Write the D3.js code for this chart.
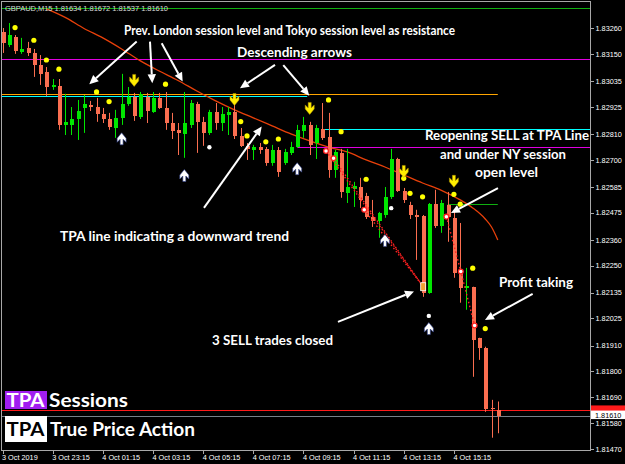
<!DOCTYPE html>
<html>
<head>
<meta charset="utf-8">
<script src="https://cdn.jsdelivr.net/npm/d3@7"></script>
<style>
  html, body { margin: 0; padding: 0; background: #000; }
  svg { display: block; }
  .axis text { fill: #fff; font-family: "Liberation Sans", Arial, sans-serif; font-size: 7.3px; }
  .axis line, .axis path { stroke: #a8a8a8; shape-rendering: crispEdges; }
  .note { fill: #fff; font-family: Lato, "Open Sans", sans-serif; font-weight: 700; font-size: 13.5px; }
  .logo { font-family: Lato, sans-serif; font-weight: 700; font-size: 19px; }
</style>
</head>
<body>
<svg id="chart" width="625" height="464"></svg>
<script>
// GBPAUD M15, 3 Oct 21:15 .. 4 Oct 17:00
const open = [1.83243,1.83188,1.83222,1.83158,1.83175,1.83154,1.83103,1.83073,1.83009,1.83014,
  1.82848,1.82848,1.82873,1.82920,1.82933,1.82924,1.82895,1.82873,1.82835,1.82878,
  1.82937,1.82967,1.82882,1.82967,1.82903,1.82963,1.82920,1.82856,1.82827,1.82810,
  1.82848,1.82937,1.82861,1.82814,1.82903,1.82856,1.82890,1.82903,1.82801,1.82759,
  1.82742,1.82754,1.82746,1.82686,1.82742,1.82686,1.82729,1.82754,1.82822,1.82848,
  1.82771,1.82831,1.82797,1.82657,1.82729,1.82559,1.82576,1.82584,1.82546,1.82457,
  1.82440,1.82465,1.82542,1.82703,1.82567,1.82508,1.82465,1.82461,1.82134,1.82512,
  1.82419,1.82508,1.82453,1.82219,1.82155,1.82160,1.81943,1.81900,1.81645,1.81634];
const high = [1.83260,1.83281,1.83230,1.83218,1.83201,1.83171,1.83145,1.83094,1.83043,1.83043,
  1.82980,1.82924,1.82954,1.82975,1.82950,1.82963,1.82920,1.82899,1.82912,1.83065,
  1.83009,1.82984,1.82988,1.82984,1.82988,1.82984,1.82988,1.82899,1.82856,1.82988,
  1.82954,1.82946,1.82882,1.82912,1.82941,1.82924,1.82924,1.82941,1.82835,1.82771,
  1.82763,1.82771,1.82754,1.82763,1.82754,1.82746,1.82776,1.82848,1.82882,1.82861,
  1.82848,1.82941,1.82899,1.82742,1.82746,1.82746,1.82606,1.82623,1.82559,1.82529,
  1.82478,1.82584,1.82746,1.82708,1.82580,1.82521,1.82487,1.82465,1.82516,1.82572,
  1.82529,1.82563,1.82478,1.82431,1.82240,1.82160,1.81943,1.81905,1.81679,1.81672];
const low = [1.83154,1.83179,1.83150,1.83150,1.83141,1.83052,1.83018,1.82971,1.82997,1.82827,
  1.82805,1.82805,1.82784,1.82814,1.82907,1.82861,1.82856,1.82827,1.82793,1.82848,
  1.82929,1.82865,1.82873,1.82856,1.82899,1.82916,1.82827,1.82788,1.82720,1.82708,
  1.82835,1.82729,1.82759,1.82805,1.82827,1.82822,1.82805,1.82788,1.82754,1.82699,
  1.82699,1.82725,1.82674,1.82674,1.82627,1.82678,1.82720,1.82750,1.82793,1.82720,
  1.82703,1.82784,1.82623,1.82623,1.82538,1.82516,1.82499,1.82495,1.82448,1.82414,
  1.82368,1.82453,1.82533,1.82563,1.82516,1.82448,1.82274,1.82117,1.82130,1.82410,
  1.82389,1.82351,1.82198,1.82092,1.82062,1.81777,1.81849,1.81628,1.81518,1.81537];
const close = [1.83196,1.83230,1.83162,1.83171,1.83154,1.83103,1.83065,1.83009,1.83018,1.82848,
  1.82861,1.82873,1.82907,1.82937,1.82924,1.82895,1.82873,1.82839,1.82878,1.82937,
  1.82967,1.82886,1.82980,1.82907,1.82963,1.82920,1.82856,1.82822,1.82814,1.82856,
  1.82941,1.82861,1.82814,1.82903,1.82856,1.82895,1.82903,1.82801,1.82759,1.82746,
  1.82754,1.82742,1.82686,1.82742,1.82648,1.82733,1.82754,1.82827,1.82848,1.82763,
  1.82835,1.82793,1.82657,1.82733,1.82563,1.82584,1.82589,1.82529,1.82457,1.82440,
  1.82474,1.82542,1.82703,1.82567,1.82529,1.82465,1.82457,1.82134,1.82512,1.82419,
  1.82516,1.82457,1.82219,1.82155,1.82164,1.81934,1.81900,1.81641,1.81641,1.81610];

// moving average ("TPA line"), read at sample bars
const maIndex = [7,10,13,16,19,22,25,28,31,34,37,40,43,46,49,52,55,58,61,64,67,70,73,75,77,78,79];
const maValue = [1.83341,1.83305,1.83258,1.83218,1.83171,1.83120,1.83077,1.83037,1.82992,1.82950,
  1.82912,1.82878,1.82844,1.82810,1.82780,1.82754,1.82733,1.82699,1.82669,1.82635,
  1.82601,1.82570,1.82529,1.82495,1.82448,1.82414,1.82359];

// session levels
const levelPrice = [1.83345, 1.83127, 1.82978, 1.82972, 1.82830, 1.82753, 1.82512];
const levelFrom  = [-1, -1, -1, -1, 51, 47, 71];
const levelTo    = [null, null, 79, 48.6, null, null, 79];
const levelKind  = ["green", "magenta", "orange", "cyan", "cyan", "magenta", "green"];

// fractal dots
const dotIndex = [2,5,7,9,15,17,26,38,39,42,44,52,54,58,64,65,67,72,73,75,77];
const dotPrice = [1.83262,1.83208,1.83124,1.83085,1.82988,1.82947,1.83021,1.82862,1.82801,1.82776,
  1.82788,1.82954,1.82819,1.82617,1.82621,1.82557,1.82542,1.82553,1.82511,1.82239,1.81982];
const whiteDotIndex = [33, 62, 68];
const whiteDotPrice = [1.82753, 1.82494, 1.82036];

// signal arrows
const sellArrowIndex = [21, 37, 49, 64, 72];
const sellArrowPrice = [1.83035, 1.82954, 1.82916, 1.82648, 1.82606];
const buyArrowIndex = [19, 29, 47, 61, 68];
const buyArrowPrice = [1.82791, 1.82635, 1.82664, 1.82359, 1.81984];

// trades
const entryIndex = [51.6, 52.8, 57.7, 70.8, 73.1, 75.3];
const entryPrice = [1.82737, 1.82706, 1.82487, 1.82458, 1.82225, 1.81995];
const closeIndex = 67.1, closePrice = 1.82160;

const ask = 1.81634, bid = 1.81610;

const priceTicks = [1.83260,1.83150,1.83035,1.82925,1.82810,1.82700,1.82585,1.82475,1.82360,
  1.82250,1.82135,1.82025,1.81910,1.81800,1.81690,1.81580,1.81470];
const timeTickIndex = [0, 8, 16, 24, 32, 40, 48, 56, 64, 72];
const timeTickLabel = ["3 Oct 2019","3 Oct 23:15","4 Oct 01:15","4 Oct 03:15","4 Oct 05:15",
  "4 Oct 07:15","4 Oct 09:15","4 Oct 11:15","4 Oct 13:15","4 Oct 15:15"];

const levelColor = {green: "#10b010", magenta: "#e000e0", orange: "#ffa500", cyan: "#00ffff"};
const bullColor = "#00e600", bearColor = "#fa6e50";

const plot = {left: 1, top: 1, right: 590, bottom: 450};

const svg = d3.select("#chart");
svg.append("rect").attr("width", 625).attr("height", 464).attr("fill", "#000");

const x = d3.scaleLinear().domain([0, 79]).range([2.5, 497.8]);
const y = d3.scaleLinear().domain([1.81470, 1.83260]).range([449, 28]);

svg.append("clipPath").attr("id", "clip")
  .append("rect").attr("x", plot.left).attr("y", plot.top)
  .attr("width", plot.right - plot.left).attr("height", plot.bottom - plot.top);

const g = svg.append("g").attr("clip-path", "url(#clip)");

// levels
levelPrice.forEach((p, k) => {
  const x1 = x(levelFrom[k]);
  const x2 = levelTo[k] == null ? plot.right : x(levelTo[k]);
  const yy = Math.round(y(p)) + 0.5;
  g.append("line").attr("x1", x1).attr("x2", x2).attr("y1", yy).attr("y2", yy)
    .attr("stroke", levelColor[levelKind[k]]).attr("stroke-width", 1);
});

// ask / bid
g.append("line").attr("x1", plot.left).attr("x2", plot.right)
  .attr("y1", Math.round(y(ask)) + 0.5).attr("y2", Math.round(y(ask)) + 0.5)
  .attr("stroke", "#ff1a1a");
g.append("line").attr("x1", plot.left).attr("x2", plot.right)
  .attr("y1", Math.round(y(bid)) + 0.5).attr("y2", Math.round(y(bid)) + 0.5)
  .attr("stroke", "#778088");

// moving average
g.append("path")
  .datum(maIndex.map((d, k) => [d, maValue[k]]))
  .attr("fill", "none").attr("stroke", "#e8400a").attr("stroke-width", 1.3)
  .attr("d", d3.line().x(d => x(d[0])).y(d => y(d[1])).curve(d3.curveMonotoneX));

// candles
const bars = open.map((o, i) => ({i, o, h: high[i], l: low[i], c: close[i]}));
const cx = d => Math.round(x(d.i));
g.selectAll("line.wick").data(bars).join("line").attr("class", "wick")
  .attr("x1", d => cx(d) + 0.5).attr("x2", d => cx(d) + 0.5)
  .attr("y1", d => y(d.h)).attr("y2", d => y(d.l))
  .attr("stroke", d => d.c >= d.o ? bullColor : bearColor);
g.selectAll("rect.body").data(bars).join("rect").attr("class", "body")
  .attr("x", d => cx(d) - 1).attr("width", 4)
  .attr("y", d => Math.round(y(Math.max(d.o, d.c))))
  .attr("height", d => Math.max(1, Math.round(Math.abs(y(d.o) - y(d.c)))))
  .attr("fill", d => d.c >= d.o ? bullColor : bearColor);

// trade lines
const tradeLine = d3.line().x(d => x(d[0])).y(d => y(d[1]));
[0, 1, 2].forEach(k => {
  g.append("path").datum([[entryIndex[k], entryPrice[k]], [closeIndex, closePrice]])
    .attr("d", tradeLine).attr("stroke", "#ff2020").attr("stroke-width", 1.4)
    .attr("stroke-dasharray", "1.5,2.5").attr("fill", "none");
});
g.append("path").datum([3, 4, 5].map(k => [entryIndex[k], entryPrice[k]]))
  .attr("d", tradeLine).attr("stroke", "#ff2020").attr("stroke-width", 1.4)
  .attr("stroke-dasharray", "1.5,2.5").attr("fill", "none");

g.selectAll("circle.entry").data(entryIndex).join("circle").attr("class", "entry")
  .attr("cx", d => x(d)).attr("cy", (d, k) => y(entryPrice[k])).attr("r", 2.4)
  .attr("fill", "#fff").attr("stroke", "#ff2020").attr("stroke-width", 1.3);
g.append("rect").attr("x", x(closeIndex) - 2.5).attr("y", y(closePrice) - 4)
  .attr("width", 5).attr("height", 8).attr("fill", "#f0a030")
  .attr("stroke", "#fff").attr("stroke-width", 0.8);

// fractal dots
g.selectAll("circle.dot").data(dotIndex).join("circle").attr("class", "dot")
  .attr("cx", d => x(d)).attr("cy", (d, k) => y(dotPrice[k])).attr("r", 2.6)
  .attr("fill", "#ffff00");
g.selectAll("circle.wdot").data(whiteDotIndex).join("circle").attr("class", "wdot")
  .attr("cx", d => x(d)).attr("cy", (d, k) => y(whiteDotPrice[k])).attr("r", 2.2)
  .attr("fill", "#fff");

// arrows
const arrowPath = "M-1.5,-6.5H1.5V-1L4.5,-4V0L0,5.5L-4.5,0V-4L-1.5,-1Z";
g.selectAll("path.sell").data(sellArrowIndex).join("path").attr("class", "sell")
  .attr("transform", (d, k) => `translate(${x(d)},${y(sellArrowPrice[k])})`)
  .attr("d", arrowPath).attr("fill", "#ffee00").attr("stroke", "#b09000").attr("stroke-width", 0.5);
g.selectAll("path.buy").data(buyArrowIndex).join("path").attr("class", "buy")
  .attr("transform", (d, k) => `translate(${x(d)},${y(buyArrowPrice[k])}) scale(1,-1)`)
  .attr("d", arrowPath).attr("fill", "#fff").attr("stroke", "#2a3a8a").attr("stroke-width", 0.6);

// border + axes
svg.append("rect").attr("x", plot.left + 0.5).attr("y", plot.top + 0.5)
  .attr("width", plot.right - plot.left).attr("height", plot.bottom - plot.top)
  .attr("fill", "none").attr("stroke", "#a8a8a8").attr("shape-rendering", "crispEdges");

const yAxis = svg.append("g").attr("class", "axis")
  .attr("transform", `translate(${plot.right + 0.5},0)`)
  .call(d3.axisRight(y).tickValues(priceTicks).tickFormat(d3.format(".5f")).tickSize(3).tickPadding(2));
yAxis.select(".domain").remove();

const xAxis = svg.append("g").attr("class", "axis")
  .attr("transform", `translate(0,${plot.bottom + 0.5})`)
  .call(d3.axisBottom(x).tickValues(timeTickIndex).tickFormat((d, k) => timeTickLabel[k]).tickSize(3).tickPadding(2));
xAxis.select(".domain").remove();
xAxis.selectAll("text").attr("text-anchor", "start").attr("dx", -1).attr("dy", "0.55em");

// price markers on the axis: ask box mostly hidden under the bid box
svg.append("rect").attr("x", plot.right + 1).attr("y", y(ask) - 5).attr("width", 34).attr("height", 9).attr("fill", "#ff1a1a");
svg.append("rect").attr("x", plot.right + 1).attr("y", y(bid) - 5.5).attr("width", 34).attr("height", 8.5).attr("fill", "#fff");
svg.append("text").attr("x", plot.right + 5).attr("y", y(bid) + 1.8).text(d3.format(".5f")(bid))
  .attr("fill", "#000").style("font-family", "Liberation Sans, Arial, sans-serif").style("font-size", "7.3px");

// title
svg.append("text").attr("x", 5).attr("y", 11)
  .text("GBPAUD,M15  1.81634 1.81672 1.81537 1.81610")
  .attr("fill", "#d8d8d8").attr("textLength", 163)
  .style("font-family", "Liberation Sans, Arial, sans-serif").style("font-size", "7.5px");

// callouts
const notes = [
  {t: "Prev. London session level and Tokyo session level as resistance", x: 289.5, y: 35, w: 331},
  {t: "Descending arrows", x: 294.5, y: 57, w: 115},
  {t: "Reopening SELL at TPA Line", x: 507, y: 140, w: 164},
  {t: "and under NY session", x: 503, y: 159, w: 126},
  {t: "open level", x: 506.5, y: 177, w: 63},
  {t: "TPA line indicating a downward trend", x: 174.5, y: 241, w: 229},
  {t: "Profit taking", x: 536, y: 287, w: 74},
  {t: "3 SELL trades closed", x: 272.5, y: 345, w: 121}
];
svg.selectAll("text.note").data(notes).join("text").attr("class", "note")
  .attr("x", d => d.x).attr("y", d => d.y).attr("text-anchor", "middle")
  .attr("textLength", d => d.w).attr("lengthAdjust", "spacingAndGlyphs").text(d => d.t);

// callout arrows: tip in data space, tail as pixel offset from tip
const pointers = [
  {i: 13.84, p: 1.83021, dx: 47.4, dy: -42.6},
  {i: 23.89, p: 1.83025, dx: -2.3, dy: -41.6},
  {i: 28.74, p: 1.83032, dx: -21, dy: -38.4},
  {i: 37.88, p: 1.83004, dx: 35, dy: -23.3},
  {i: 48.93, p: 1.82972, dx: -26, dy: -30.7},
  {i: 41.34, p: 1.82841, dx: -57.7, dy: 81.3},
  {i: 71.53, p: 1.82473, dx: 47, dy: -25},
  {i: 76.95, p: 1.82019, dx: 47.7, dy: -26},
  {i: 65.63, p: 1.82140, dx: -76, dy: 30.5}
];
pointers.forEach(a => {
  const tx = x(a.i), ty = y(a.p);
  const len = Math.hypot(a.dx, a.dy), ux = -a.dx / len, uy = -a.dy / len;
  const hl = 9, hw = 4.2;
  const bx = tx - ux * hl, by = ty - uy * hl;
  svg.append("line").attr("x1", tx + a.dx).attr("y1", ty + a.dy).attr("x2", bx).attr("y2", by)
    .attr("stroke", "#fff").attr("stroke-width", 2);
  svg.append("path").attr("fill", "#fff")
    .attr("d", `M${tx},${ty}L${bx - uy * hw},${by + ux * hw}L${bx + uy * hw},${by - ux * hw}Z`);
});

// logos
svg.append("rect").attr("x", 5).attr("y", 391).attr("width", 42).attr("height", 18).attr("fill", "#a01ef0");
svg.append("text").attr("class", "logo").attr("x", 6.5).attr("y", 406.5).text("TPA").attr("fill", "#fff")
  .attr("textLength", 38).attr("lengthAdjust", "spacingAndGlyphs");
svg.append("text").attr("class", "logo").attr("x", 49).attr("y", 406.5).text("Sessions").attr("fill", "#fff")
  .attr("textLength", 79).attr("lengthAdjust", "spacingAndGlyphs");
svg.append("rect").attr("x", 5).attr("y", 416).attr("width", 42).attr("height", 26).attr("fill", "#fff");
svg.append("text").attr("class", "logo").attr("x", 6.5).attr("y", 436).text("TPA").attr("fill", "#000")
  .attr("textLength", 38).attr("lengthAdjust", "spacingAndGlyphs");
svg.append("text").attr("class", "logo").attr("x", 50).attr("y", 436).text("True Price Action").attr("fill", "#fff")
  .attr("textLength", 145).attr("lengthAdjust", "spacingAndGlyphs");
</script>
</body>
</html>
